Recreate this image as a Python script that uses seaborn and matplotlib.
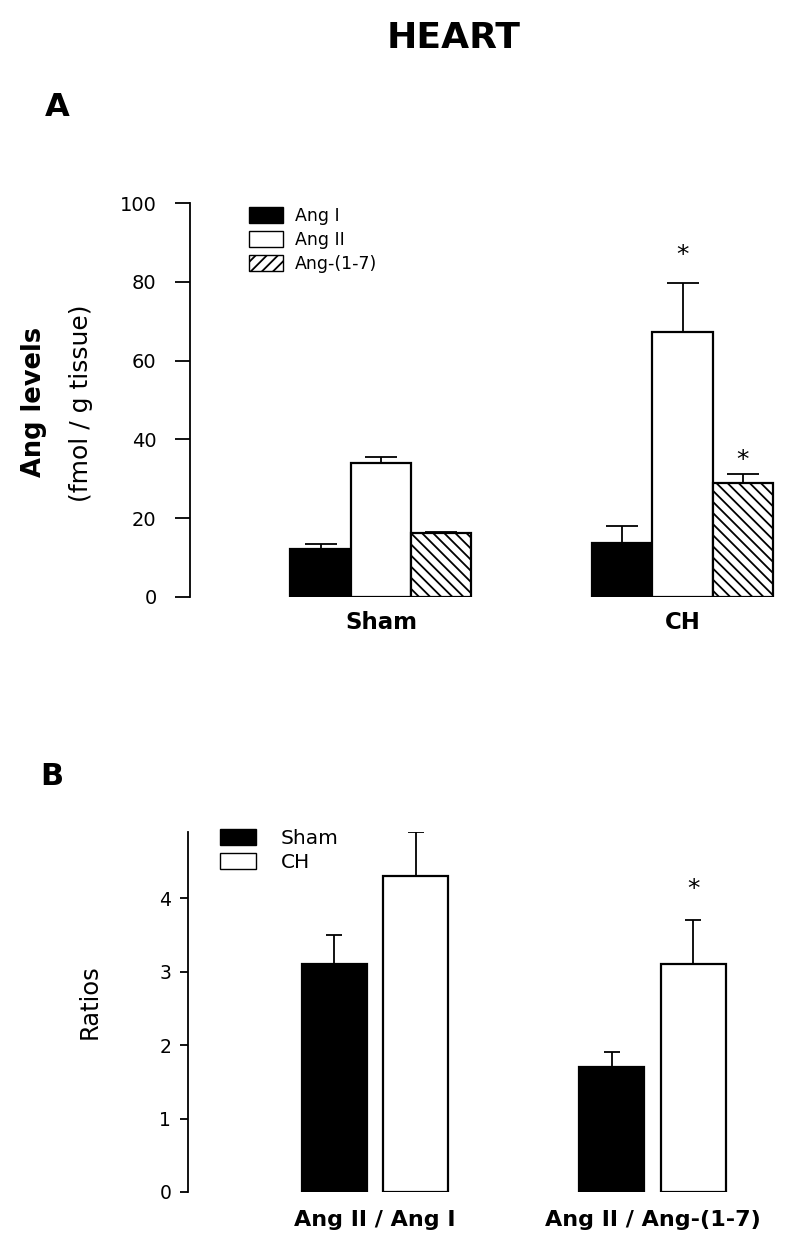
"""HEART: Ang peptide levels (A) and ratios (B), Sham vs CH."""
import matplotlib
matplotlib.use("Agg")
import matplotlib.pyplot as plt
from matplotlib.patches import Patch
import pandas as pd
import seaborn as sns

# Panel A: Ang levels (fmol / g tissue), mean and SEM
groups = ["Sham", "CH"]
peptides = ["Ang I", "Ang II", "Ang-(1-7)"]
sham_levels = [12.2, 34.0, 16.2]
sham_sem = [1.3, 1.5, 0.3]
ch_levels = [13.7, 67.3, 28.9]
ch_sem = [4.3, 12.4, 2.3]
# level where the significance star sits (None = no star)
ch_star_level = [None, 86.8, 34.8]

# Panel B: ratios, mean and SEM
ratio_labels = ["Ang II / Ang I", "Ang II / Ang-(1-7)"]
ratio_groups = ["Sham", "CH"]
sham_ratio = [3.1, 1.7]
sham_ratio_sem = [0.4, 0.2]
ch_ratio = [4.3, 3.1]
ch_ratio_sem = [0.6, 0.6]
ch_ratio_star_level = [None, 4.12]

sns.set_theme(style="ticks")
plt.rcParams["font.family"] = ["DejaVu Sans"]
plt.rcParams["hatch.linewidth"] = 1.3
for key in ["text.color", "axes.labelcolor", "xtick.color", "ytick.color",
            "axes.edgecolor"]:
    plt.rcParams[key] = "black"

fig = plt.figure(figsize=(8, 12.51), dpi=100)

# ---------- panel A ----------
df_a = pd.DataFrame({
    "group": [g for g in groups for _ in peptides],
    "peptide": peptides * len(groups),
    "level": sham_levels + ch_levels,
})
sem_a = {p: [sham_sem[i], ch_sem[i]] for i, p in enumerate(peptides)}
star_a = {p: [None, ch_star_level[i]] for i, p in enumerate(peptides)}

ax = fig.add_axes([0.2375, 0.5228, 0.7375, 0.3149])
sns.barplot(data=df_a, x="group", y="level", hue="peptide", order=groups,
            hue_order=peptides, width=0.6, errorbar=None, saturation=1,
            palette={"Ang I": "black", "Ang II": "white", "Ang-(1-7)": "white"},
            edgecolor="black", linewidth=1.6, legend=False, ax=ax)
for cont, pep in zip(ax.containers, peptides):
    for bar, err, star in zip(cont, sem_a[pep], star_a[pep]):
        if pep == "Ang-(1-7)":
            bar.set_hatch("\\\\\\")
        xc = bar.get_x() + bar.get_width() / 2
        top = bar.get_height()
        ax.errorbar(xc, top, yerr=[[0], [err]], fmt="none", ecolor="black",
                    elinewidth=1.3, capsize=11.5, capthick=1.3, zorder=1)
        if star is not None:
            ax.text(xc, star, "*", ha="center", va="center", fontsize=18)

ax.set_xlim(-0.633, 1.323)
ax.set_ylim(0, 100)
ax.set_yticks([0, 20, 40, 60, 80, 100])
ax.tick_params(axis="y", direction="out", length=11, width=1.3, pad=13, labelsize=14)
ax.tick_params(axis="x", length=0, pad=10)
for lab in ax.get_xticklabels():
    lab.set_fontweight("bold")
    lab.set_fontsize(16.5)
sns.despine(ax=ax, bottom=True)
ax.spines["left"].set_linewidth(1.3)
ax.set_xlabel("")
ax.set_ylabel("")

handles = [Patch(facecolor="black", edgecolor="black", label="Ang I"),
           Patch(facecolor="white", edgecolor="black", label="Ang II"),
           Patch(facecolor="white", edgecolor="black", hatch="///", label="Ang-(1-7)")]
ax.legend(handles=handles, loc="upper left", bbox_to_anchor=(0.1, 0.99),
          frameon=False, fontsize=12.5, handlelength=1.95, handleheight=1.03,
          labelspacing=0.35, handletextpad=0.7, borderpad=0, borderaxespad=0)

fig.text(0.0425, 0.679, "Ang levels", rotation=90, ha="center", va="center",
         fontsize=18.5, fontweight="bold")
fig.text(0.101, 0.678, "(fmol / g tissue)", rotation=90, ha="center", va="center",
         fontsize=18)

# ---------- panel B ----------
df_b = pd.DataFrame({
    "ratio": [r for r in ratio_labels for _ in ratio_groups],
    "group": ratio_groups * len(ratio_labels),
    "value": [v for pair in zip(sham_ratio, ch_ratio) for v in pair],
})
sem_b = {"Sham": sham_ratio_sem, "CH": ch_ratio_sem}
star_b = {"Sham": [None, None], "CH": ch_ratio_star_level}

bx = fig.add_axes([0.235, 0.0472, 0.74, 0.2877])
sns.barplot(data=df_b, x="ratio", y="value", hue="group", order=ratio_labels,
            hue_order=ratio_groups, width=0.587, gap=0.204, errorbar=None,
            saturation=1, palette={"Sham": "black", "CH": "white"},
            edgecolor="black", linewidth=1.6, legend=False, ax=bx)
for cont, grp in zip(bx.containers, ratio_groups):
    for bar, err, star in zip(cont, sem_b[grp], star_b[grp]):
        xc = bar.get_x() + bar.get_width() / 2
        top = bar.get_height()
        bx.errorbar(xc, top, yerr=[[0], [err]], fmt="none", ecolor="black",
                    elinewidth=1.3, capsize=6, capthick=1.3, zorder=1)
        if star is not None:
            bx.text(xc, star, "*", ha="center", va="center", fontsize=18)

bx.set_xlim(-0.674, 1.46)
bx.set_ylim(0, 4.9)
bx.set_yticks([0, 1, 2, 3, 4])
bx.tick_params(axis="y", direction="out", length=6, width=1.3, pad=6, labelsize=13.5)
bx.tick_params(axis="x", length=0, pad=13)
for lab in bx.get_xticklabels():
    lab.set_fontweight("bold")
    lab.set_fontsize(16)
sns.despine(ax=bx, bottom=True)
bx.spines["left"].set_linewidth(1.3)
bx.set_xlabel("")
bx.set_ylabel("")

handles_b = [Patch(facecolor="black", edgecolor="black", label="Sham"),
             Patch(facecolor="white", edgecolor="black", label="CH")]
bx.legend(handles=handles_b, loc="upper left", bbox_to_anchor=(0.054, 1.008),
          frameon=False, fontsize=14.5, handlelength=1.8, handleheight=0.85,
          labelspacing=0.25, handletextpad=1.2, borderpad=0, borderaxespad=0)

fig.text(0.1125, 0.199, "Ratios", rotation=90, ha="center", va="center", fontsize=17.5)

# titles and panel letters
fig.text(0.567, 0.970, "HEART", ha="center", va="center", fontsize=26, fontweight="bold")
fig.text(0.056, 0.914, "A", ha="left", va="center", fontsize=23, fontweight="bold")
fig.text(0.05, 0.379, "B", ha="left", va="center", fontsize=22, fontweight="bold")

fig.savefig("out.png", dpi=100)
